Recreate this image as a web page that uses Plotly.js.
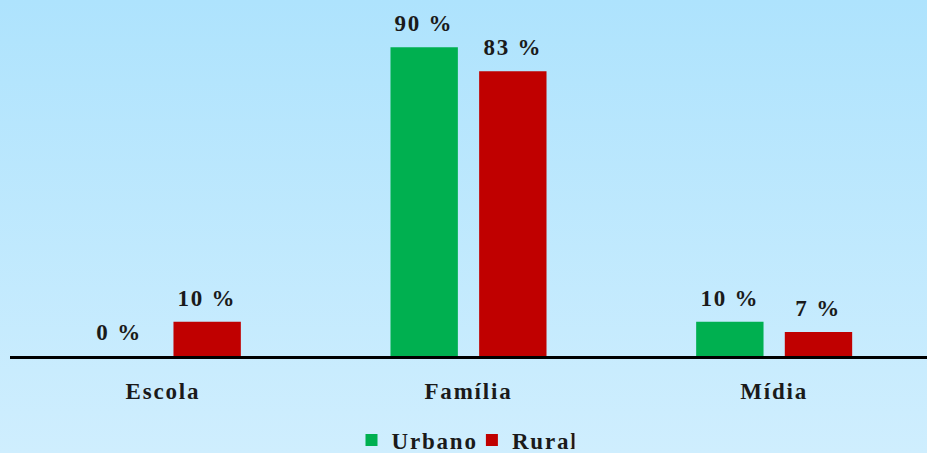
<!DOCTYPE html>
<html>
<head>
<meta charset="utf-8">
<script src="https://cdn.plot.ly/plotly-3.0.1.min.js"></script>
<style>
  html, body { margin: 0; padding: 0; }
  body { width: 927px; height: 453px; background: linear-gradient(to bottom, #aee3fd 0%, #cfeefe 100%); overflow: hidden; }
  #chart { width: 927px; height: 453px; }
  .main-svg text { letter-spacing: 1.8px; }
</style>
</head>
<body>
<div id="chart"></div>
<script>
const categories = ["Escola", "Família", "Mídia"];
const urbano = [0, 90, 10];
const rural = [10, 83, 7];
const seriesNames = ["Urbano", "Rural"];
const colors = ['#00b050', '#c00000'];

const font = {family: '"Liberation Serif", "Times New Roman", serif', size: 23, color: '#1a1a1a', weight: 'bold'};

const series = [urbano, rural];
const traces = series.map((vals, s) => ({
  type: 'bar', name: seriesNames[s], x: categories, y: vals,
  marker: {color: colors[s]}, hoverinfo: 'none'
}));

const bargap = 0.42;
const slot = (1 - bargap) / series.length;
const annotations = [];
series.forEach((vals, s) => {
  vals.forEach((v, i) => {
    annotations.push({
      x: i + (s - (series.length - 1) / 2) * slot, y: v, xref: 'x', yref: 'y',
      text: v + ' %', showarrow: false, yanchor: 'bottom', yshift: 9, font: font
    });
  });
});

const layout = {
  width: 927, height: 453,
  paper_bgcolor: 'rgba(0,0,0,0)', plot_bgcolor: 'rgba(0,0,0,0)',
  margin: {l: 10, r: 0, t: 13, b: 97, autoexpand: false},
  barmode: 'group', bargap: bargap, bargroupgap: 0.24,
  font: font,
  annotations: annotations,
  xaxis: {range: [-0.5, 2.5], showline: true, linecolor: '#000', linewidth: 3, ticks: '', tickfont: font, ticklabelstandoff: 12, showgrid: false, zeroline: false, fixedrange: true, automargin: false},
  yaxis: {range: [0, 100], visible: false, showgrid: false, zeroline: false, fixedrange: true, automargin: false},
  showlegend: true,
  legend: {orientation: 'h', x: 0.494, xanchor: 'center', yref: 'paper', y: -0.245, yanchor: 'middle', font: font, bgcolor: 'rgba(0,0,0,0)', itemwidth: 30, traceorder: 'normal'}
};

Plotly.newPlot('chart', traces, layout, {displayModeBar: false, staticPlot: true});
</script>
</body>
</html>
